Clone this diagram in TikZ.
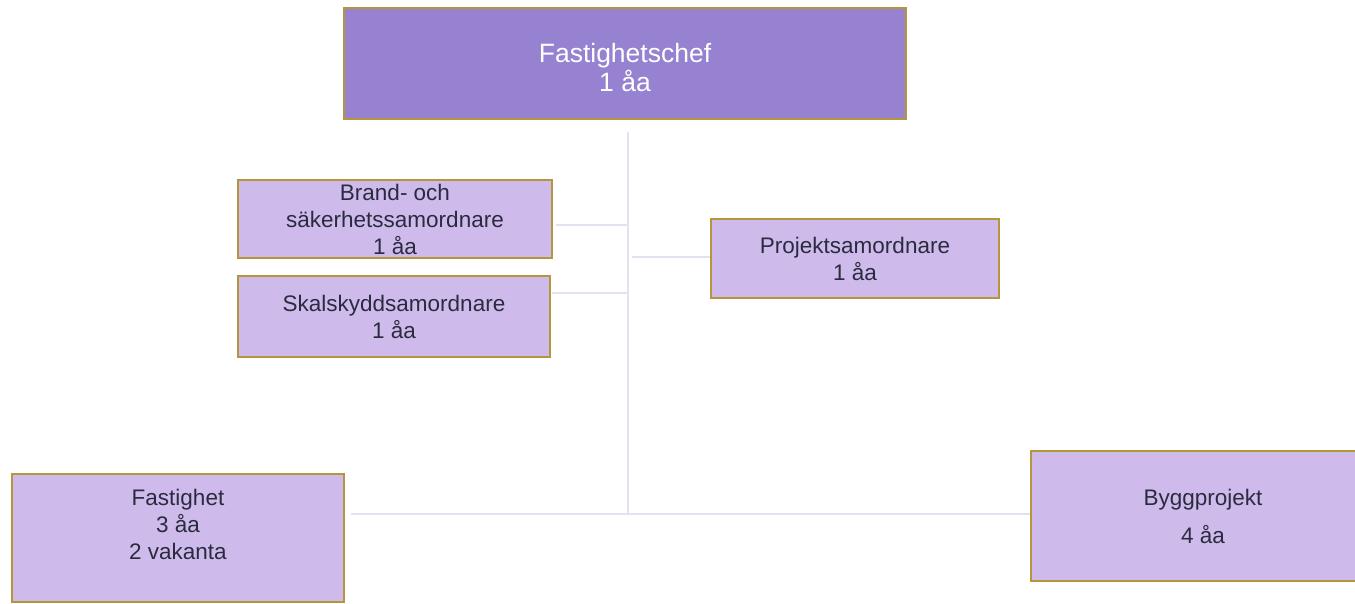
\documentclass[tikz,border=0pt]{standalone}
\usepackage{fontspec}
\setmainfont{Liberation Sans}
\usetikzlibrary{positioning}
\definecolor{chefFill}{RGB}{150,130,208}
\definecolor{unitFill}{RGB}{206,187,236}
\definecolor{unitEdge}{RGB}{181,150,60}
\definecolor{unitText}{RGB}{43,43,63}
\definecolor{linkGray}{RGB}{228,226,242}

\begin{document}
\begin{tikzpicture}
  [x=1pt, y=-1pt,
   unit/.style={draw=unitEdge, line width=1.5pt, fill=unitFill,
     text=unitText, inner sep=0pt, align=center,
     font=\fontsize{22.5}{27}\selectfont},
   chef/.style={unit, fill=chefFill, text=white,
     font=\fontsize{26.5}{29}\selectfont},
   link/.style={draw=linkGray, line width=2pt}]
  \path[fill=white, use as bounding box] (0,0) rectangle (1355,603);

  \node [chef, minimum width=562pt, minimum height=111pt] (head) at (625,63.5) {};
  \node [chef, draw=none, fill=none] (headtext) at (625,67.5)
    {Fastighetschef\\1 åa};

  \node [unit, minimum width=314pt, minimum height=78pt] (brand) at (395,219)
    {Brand- och\\säkerhetssamordnare\\1 åa};
  \node [unit, minimum width=312pt, minimum height=81pt] (skal) at (394,316.5)
    {Skalskyddsamordnare\\1 åa};
  \node [unit, minimum width=288pt, minimum height=79pt] (proj) at (855,258.5)
    {Projektsamordnare\\1 åa};

  \node [unit, minimum width=332pt, minimum height=128pt] (fast) at (178,538)
    {Fastighet\\3 åa\\2 vakanta\\\mbox{}};
  \node [unit, minimum width=344pt, minimum height=130pt] (bygg) at (1203,516)
    {Byggprojekt\\[11pt]4 åa};

  % trunk and joins
  \coordinate (top) at (628,132);
  \coordinate (jb) at (628,225);
  \coordinate (js) at (628,293);
  \coordinate (jp) at (632,257);
  \coordinate (bot) at (628,514);

  \draw [link] (top) -- (bot);
  \draw [link] ([xshift=3pt]brand.east |- jb) -- (jb);
  \draw [link] ([xshift=1pt]skal.east |- js) -- (js);
  \draw [link] (jp) -- (proj.west |- jp);
  \draw [link] ([xshift=6pt]fast.east |- bot) -- (bygg.west |- bot);
\end{tikzpicture}
\end{document}
